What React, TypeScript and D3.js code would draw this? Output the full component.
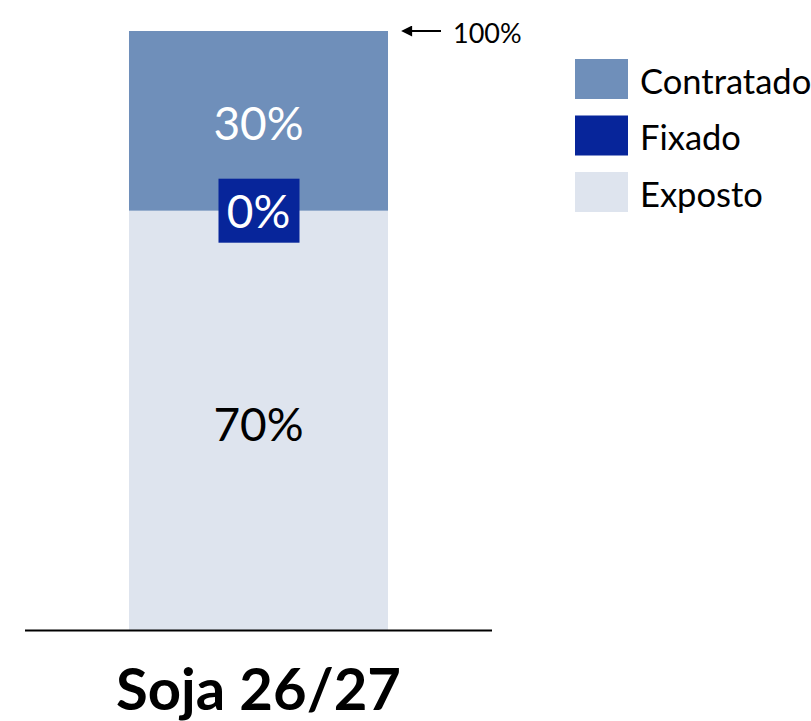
import React from "react";
import * as d3 from "d3";

const categories = ["Soja 26/27"];
const contratado = [0.3];
const fixado = [0.0];
const exposto = [0.7];
const legendNames = ["Contratado", "Fixado", "Exposto"];
const colors: Record<string, string> = {
  Contratado: "#6f8fba",
  Fixado: "#07259a",
  Exposto: "#dee4ee",
};
const FONT = "Lato, 'Open Sans', sans-serif";

export default function App() {
  const W = 811, H = 721;
  const x = d3.scaleBand().domain(categories).range([25, 492]).paddingInner(0).paddingOuter(0.4015);
  const y = d3.scaleLinear().domain([0, 1]).range([630, 31]);
  const rows = categories.map((c, i) => ({ cat: c, Exposto: exposto[i], Contratado: contratado[i], Fixado: fixado[i] }));
  const stack = d3.stack<any>().keys(["Exposto", "Contratado"]);
  const series = stack(rows);
  const fmt = d3.format(".0%");

  return (
    <svg width={W} height={H} style={{ position: "absolute", left: 0, top: 0, background: "#fff" }} fontFamily={FONT}>
      <defs>
        <marker id="ah" viewBox="0 0 10 10" refX="1" refY="5" markerWidth="13" markerHeight="11" markerUnits="userSpaceOnUse" orient="auto-start-reverse">
          <path d="M0,0 L10,5 L0,10 z" fill="#000" />
        </marker>
      </defs>
      {series.map((s) =>
        s.map((d, i) => (
          <rect
            key={s.key + i}
            x={x(categories[i])}
            width={x.bandwidth()}
            y={y(d[1])}
            height={y(d[0]) - y(d[1])}
            fill={colors[s.key]}
          />
        ))
      )}
      {rows.map((r) => {
        const cx = (x(r.cat) as number) + x.bandwidth() / 2;
        const boundary = y(r.Exposto);
        return (
          <g key={r.cat}>
            <text x={cx} y={(y(1) + boundary) / 2 + 2} textAnchor="middle" dominantBaseline="central" fontSize={46} fill="#fff">{fmt(r.Contratado)}</text>
            <text x={cx} y={(y(0) + boundary) / 2 + 3} textAnchor="middle" dominantBaseline="central" fontSize={46} fill="#000">{fmt(r.Exposto)}</text>
            <rect x={cx - 40} y={boundary - 32} width={81} height={64} fill={colors.Fixado} />
            <text x={cx} y={boundary} textAnchor="middle" dominantBaseline="central" fontSize={46} fill="#fff">{fmt(r.Fixado)}</text>
            <text x={cx} y={710} textAnchor="middle" fontSize={58} fontWeight="bold" fill="#000">{r.cat}</text>
          </g>
        );
      })}
      <line x1={25} x2={492} y1={630.5} y2={630.5} stroke="#000" strokeWidth={2} />
      <line x1={441} x2={411} y1={y(1)} y2={y(1)} stroke="#000" strokeWidth={2} markerEnd="url(#ah)" />
      <text x={453} y={y(1) + 1} dominantBaseline="central" fontSize={27} fill="#000">100%</text>
      {legendNames.map((n, i) => (
        <g key={n} transform={`translate(575, ${59 + i * 56.5})`}>
          <rect width={53} height={40} fill={colors[n]} />
          <text x={65} y={21} dominantBaseline="central" fontSize={34.5} fill="#000">{n}</text>
        </g>
      ))}
    </svg>
  );
}
